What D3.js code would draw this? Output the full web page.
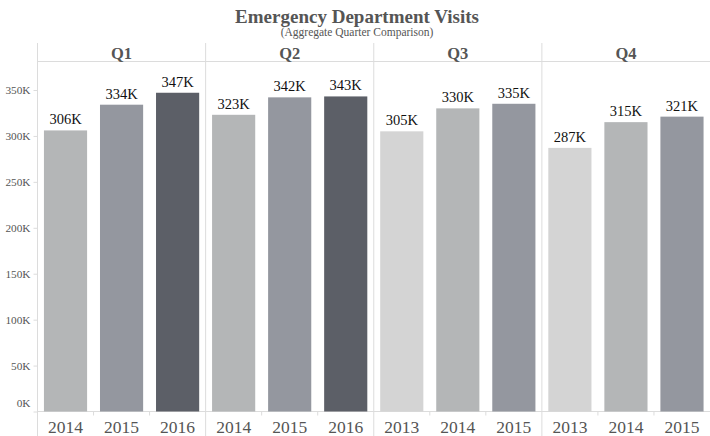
<!DOCTYPE html>
<html><head><meta charset="utf-8">
<script src="https://cdn.jsdelivr.net/npm/d3@7"></script>
<style>body{margin:0;background:#fff}svg{display:block}text{font-family:"Liberation Serif","Times New Roman",serif}</style>
</head><body><svg id="c" width="710" height="436"></svg>
<script>
const quarters = ["Q1","Q2","Q3","Q4"];
const years = [["2014","2015","2016"],["2014","2015","2016"],["2013","2014","2015"],["2013","2014","2015"]];
const values = [[306,334,347],[323,342,343],[305,330,335],[287,315,321]];
const yTicks = [0,50,100,150,200,250,300,350];
const yearColors = {"2013":"#d4d4d4","2014":"#b4b6b7","2015":"#94979f","2016":"#5c5f67"};

const svg = d3.select("#c");
const leftX = 37.5, rightX = 710, topY = 43, headerBottom = 61.5, base = 411.5;
const y = d3.scaleLinear().domain([0,350]).range([base, 90]);
const qx = d3.scaleBand().domain(quarters).range([leftX, rightX]);

svg.append("text").attr("x",357).attr("y",23).attr("text-anchor","middle")
  .attr("font-size",19).attr("font-weight","bold").attr("fill","#555").text("Emergency Department Visits");
svg.append("text").attr("x",357).attr("y",36).attr("text-anchor","middle")
  .attr("font-size",11.5).attr("fill","#555").text("(Aggregate Quarter Comparison)");

const grid = "#dcdcdc";
svg.append("line").attr("x1",leftX).attr("x2",rightX).attr("y1",headerBottom).attr("y2",headerBottom).attr("stroke",grid);
svg.append("line").attr("x1",leftX).attr("x2",leftX).attr("y1",topY).attr("y2",436).attr("stroke",grid);
svg.append("line").attr("x1",leftX).attr("x2",rightX).attr("y1",base).attr("y2",base).attr("stroke",grid);

const ya = svg.append("g").attr("transform",`translate(${leftX},0)`)
  .call(d3.axisLeft(y).tickValues(yTicks).tickSize(4).tickFormat(d=>d+"K"));
ya.select(".domain").remove();
ya.selectAll("line").attr("stroke",grid);
ya.selectAll("text").attr("font-size",11.3).attr("fill","#555").attr("font-family","Liberation Serif, serif")
  .attr("dy", d=> d===0 ? "-0.4em" : "0.32em");

quarters.forEach((q,i)=>{
  const x0 = qx(q);
  if(i>0) svg.append("line").attr("x1",x0).attr("x2",x0).attr("y1",topY).attr("y2",436).attr("stroke",grid);
  svg.append("text").attr("x",x0+qx.bandwidth()/2).attr("y",59).attr("text-anchor","middle")
    .attr("font-size",16.5).attr("font-weight","bold").attr("fill","#555").text(q);
  const xb = d3.scaleBand().domain(years[i]).range([x0, x0+qx.bandwidth()]).paddingInner(0.23).paddingOuter(0.115);
  const g = svg.append("g");
  years[i].forEach((yr,j)=>{
    const v = values[i][j];
    g.append("rect").attr("x",xb(yr)).attr("width",xb.bandwidth()).attr("y",y(v)).attr("height",base-y(v))
      .attr("fill",yearColors[yr]);
    g.append("text").attr("x",xb(yr)+xb.bandwidth()/2).attr("y",y(v)-6).attr("text-anchor","middle")
      .attr("font-size",14.5).attr("fill","#111").text(v+"K");
    g.append("text").attr("x",xb(yr)+xb.bandwidth()/2).attr("y",433).attr("text-anchor","middle")
      .attr("font-size",17.5).attr("fill","#555").text(yr);
    if(j>0){
      const bx = xb(yr) - xb.step()*xb.paddingInner()/2;
      g.append("line").attr("x1",bx).attr("x2",bx).attr("y1",base).attr("y2",base+4).attr("stroke",grid);
    }
  });
});
</script></body></html>
